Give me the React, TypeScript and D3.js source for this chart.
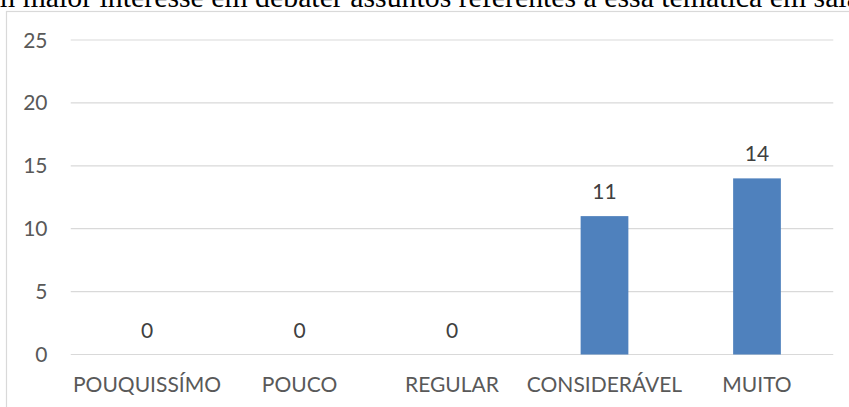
import React from 'react';
import * as d3 from 'd3';

// Answer categories and number of responses per category
const categories = ['POUQUISSÍMO', 'POUCO', 'REGULAR', 'CONSIDERÁVEL', 'MUITO'];
const values = [0, 0, 0, 11, 14];
const yTicks = [0, 5, 10, 15, 20, 25];
const heading = 'm maior interesse em debater assuntos referentes a essa temática em sala';

const W = 849;
const H = 407;
const plot = { left: 70.75, right: 833.25, top: 40, bottom: 354.5 };

const LABEL_FONT = 'Lato, "Open Sans", sans-serif';
const GRID = '#d9d9d9';
const TEXT = '#595959';
const BAR = '#4F81BD';

export default function App() {
  const x = d3
    .scaleBand<string>()
    .domain(categories)
    .range([plot.left, plot.right])
    .paddingInner(0.687)
    .paddingOuter(0.3435);
  const y = d3.scaleLinear().domain([0, 25]).range([plot.bottom, plot.top]);

  return (
    <>
      <style>{'body{margin:0;}'}</style>
      <svg width={W} height={H} style={{ display: 'block' }}>
        <rect x={0} y={0} width={W} height={H} fill="#ffffff" />
        {/* running text line above the chart */}
        <text
          x={-8}
          y={6.5}
          fontFamily='"Liberation Serif", "Times New Roman", serif'
          fontSize={29.8}
          fill="#000000"
        >
          {heading}
        </text>
        {/* chart area frame */}
        <rect x={6.5} y={11.5} width={W + 10} height={H + 10} fill="#ffffff" stroke={GRID} strokeWidth={1.2} />

        {/* gridlines and y tick labels */}
        {yTicks.map((t) => (
          <g key={t}>
            <line x1={plot.left} x2={plot.right} y1={y(t)} y2={y(t)} stroke={GRID} strokeWidth={1.2} />
            <text
              x={47.5}
              y={y(t)}
              dy="0.36em"
              textAnchor="end"
              fontFamily={LABEL_FONT}
              fontSize={21}
              fill={TEXT}
            >
              {t}
            </text>
          </g>
        ))}

        {/* bars */}
        {categories.map((c, i) => (
          <rect
            key={c}
            x={x(c)}
            y={y(values[i])}
            width={x.bandwidth()}
            height={plot.bottom - y(values[i])}
            fill={BAR}
          />
        ))}

        {/* value labels */}
        {categories.map((c, i) => (
          <text
            key={`v-${c}`}
            x={(x(c) ?? 0) + x.bandwidth() / 2}
            y={y(values[i]) - 24.5}
            dy="0.36em"
            textAnchor="middle"
            fontFamily={LABEL_FONT}
            fontSize={21}
            fill="#404040"
          >
            {values[i]}
          </text>
        ))}

        {/* category labels */}
        {categories.map((c) => (
          <text
            key={`c-${c}`}
            x={(x(c) ?? 0) + x.bandwidth() / 2}
            y={384.5}
            dy="0.36em"
            textAnchor="middle"
            fontFamily={LABEL_FONT}
            fontSize={21}
            fill={TEXT}
          >
            {c}
          </text>
        ))}
      </svg>
    </>
  );
}
